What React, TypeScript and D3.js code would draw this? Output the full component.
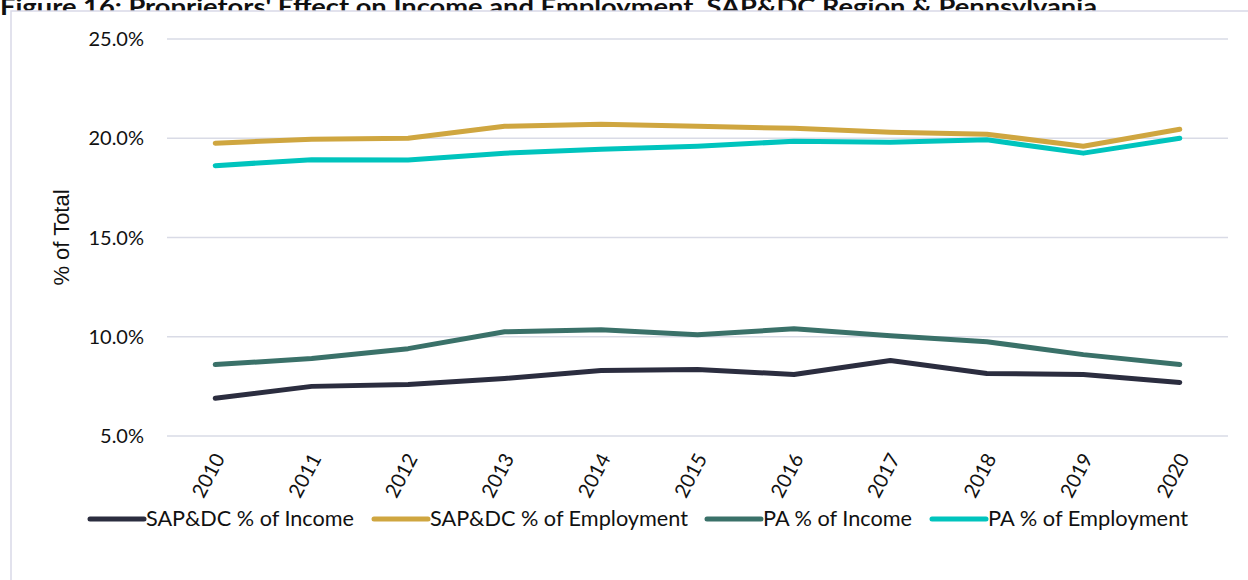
import React from "react";
import * as d3 from "d3";

const years = ["2010","2011","2012","2013","2014","2015","2016","2017","2018","2019","2020"];
const sapIncome = [6.9, 7.5, 7.6, 7.9, 8.3, 8.35, 8.1, 8.8, 8.15, 8.1, 7.7];
const sapEmployment = [19.75, 19.95, 20.0, 20.6, 20.7, 20.6, 20.5, 20.3, 20.2, 19.6, 20.45];
const paIncome = [8.6, 8.9, 9.4, 10.25, 10.35, 10.1, 10.4, 10.05, 9.75, 9.1, 8.6];
const paEmployment = [18.62, 18.92, 18.9, 19.25, 19.45, 19.6, 19.85, 19.8, 19.92, 19.25, 20.0];
const yTicks = [5, 10, 15, 20, 25];

const seriesNames = ["SAP&DC % of Income", "SAP&DC % of Employment", "PA % of Income", "PA % of Employment"];
const seriesColors = ["#2b2d3f", "#cfa640", "#3a7169", "#00c4bd"];
const seriesValues = [sapIncome, sapEmployment, paIncome, paEmployment];

export default function App() {
  const W = 1248, H = 580;
  const left = 167, right = 1228, top = 39, bottom = 436;
  const x = d3.scaleBand().domain(years).range([left, right]).paddingInner(0).paddingOuter(0);
  const y = d3.scaleLinear().domain([5, 25]).range([bottom, top]);
  const cx = (yr: string) => (x(yr) as number) + x.bandwidth() / 2;
  const line = d3.line<number>().x((_, i) => cx(years[i])).y(d => y(d));
  const font = "Lato, 'Open Sans', sans-serif";

  const legendX = [88, 372, 705, 930];
  const legendTextW = [208, 258, 149, 200];

  return (
    <svg width={W} height={H} style={{ position: "absolute", left: 0, top: 0 }} fontFamily={font}>
      <rect x={0} y={0} width={W} height={H} fill="#fff" />
      <text x={0} y={15} fontSize={23} fontWeight="bold" fill="#111" textLength={1097} lengthAdjust="spacingAndGlyphs">
        Figure 16: Proprietors' Effect on Income and Employment, SAP&amp;DC Region &amp; Pennsylvania
      </text>
      <rect x={11} y={11} width={W + 20} height={H + 20} fill="#fff" stroke="#d9d9e8" strokeWidth={1.5} />
      {yTicks.map(t => (
        <g key={t}>
          <line x1={left} x2={right} y1={y(t)} y2={y(t)} stroke="#d9dbe6" strokeWidth={1.5} />
          <text x={144} y={y(t)} dy="0.36em" textAnchor="end" fontSize={20} fill="#111">
            {t.toFixed(1)}%
          </text>
        </g>
      ))}
      <text transform={`translate(69,${(top + bottom) / 2}) rotate(-90)`} textAnchor="middle" fontSize={22} fontFamily="'Liberation Sans', Arial, sans-serif" fill="#111">
        % of Total
      </text>
      {years.map(yr => (
        <text key={yr} transform={`translate(${cx(yr) + 4},${455}) rotate(-62)`} textAnchor="end" dy="0.35em" fontSize={20} fill="#111">
          {yr}
        </text>
      ))}
      {seriesValues.map((vals, i) => (
        <path key={i} d={line(vals) || ""} fill="none" stroke={seriesColors[i]} strokeWidth={5} strokeLinecap="round" strokeLinejoin="round" />
      ))}
      {seriesNames.map((n, i) => (
        <g key={n} transform={`translate(${legendX[i]},519)`}>
          <line x1={2} x2={56} y1={0} y2={0} stroke={seriesColors[i]} strokeWidth={5} strokeLinecap="round" />
          <text x={58} y={0} dy="0.35em" fontSize={21} fill="#111" textLength={legendTextW[i]} lengthAdjust="spacingAndGlyphs">{n}</text>
        </g>
      ))}
    </svg>
  );
}
